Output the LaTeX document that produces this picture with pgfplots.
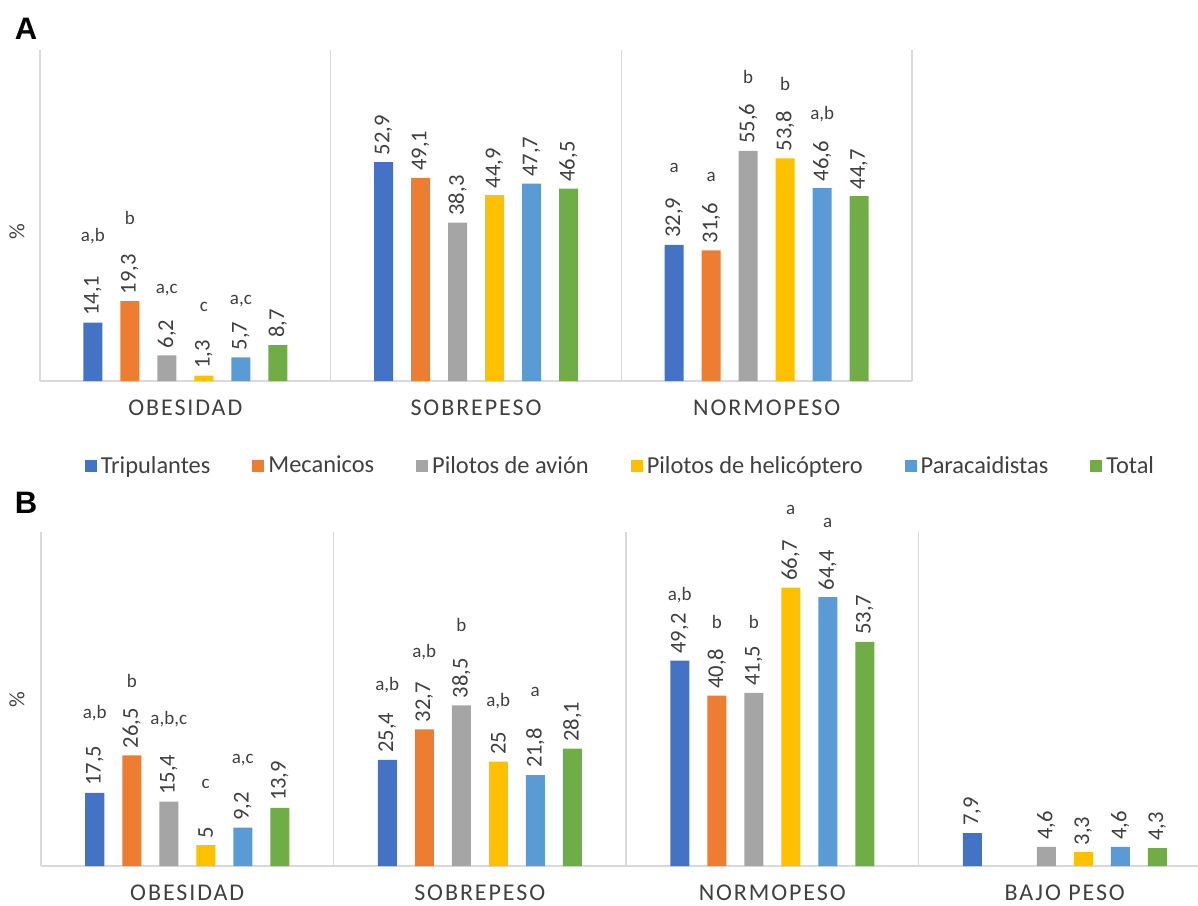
\documentclass[border=0pt]{standalone}
\usepackage{fontspec}
\setmainfont{Carlito}
\newfontfamily\spaced[LetterSpace=8]{Carlito}
\newfontfamily\titlefont{Liberation Sans}
\usepackage{pgfplots}
\pgfplotsset{compat=1.18}
\definecolor{cTrip}{HTML}{4472C4}
\definecolor{cMec}{HTML}{ED7D31}
\definecolor{cAvi}{HTML}{A5A5A5}
\definecolor{cHel}{HTML}{FFC000}
\definecolor{cPar}{HTML}{5B9BD5}
\definecolor{cTot}{HTML}{70AD47}
\definecolor{txt}{HTML}{404040}
\tikzset{sig/.style={font=\fontsize{9.5}{10}\selectfont, text=txt, inner sep=0pt}}
\pgfplotsset{
 panel/.style={
  scale only axis, ybar, bar width=9.5pt, ymin=0, ymax=80, clip=false,
  enlarge x limits=false, enlarge y limits=false,
  axis y line=none, axis x line=bottom,
  x axis line style={-, draw=gray!30, line width=1pt},
  major tick length=0pt,
  xticklabel style={font=\spaced\fontsize{12}{14}\selectfont, text=black!75, yshift=-6pt},
  extra x ticks={-0.5,0.5,1.5,2.5}, extra x tick labels={},
  extra x tick style={grid=major, major grid style={draw=gray!30, line width=0.8pt}},
  /pgf/number format/use comma, /pgf/number format/assume math mode=true,
  nodes near coords,
  every node near coord/.append style={rotate=90, anchor=west, font=\fontsize{11.3}{13}\selectfont, text=txt},
 },
}
\begin{document}
\begin{tikzpicture}
\path[use as bounding box] (0,0) rectangle (599pt,-452.5pt);
% Panel A
\begin{axis}[panel, at={(20pt,-190.5pt)}, anchor=south west, width=436pt, height=165.5pt,
  xmin=-0.5, xmax=2.5, xtick={0,1,2}, xticklabels={OBESIDAD,SOBREPESO,NORMOPESO}]
\addplot[fill=cTrip, draw=none, bar shift=-46.25pt] coordinates {(0,14.1) (1,52.9) (2,32.9)};
\addplot[fill=cMec,  draw=none, bar shift=-27.75pt] coordinates {(0,19.3) (1,49.1) (2,31.6)};
\addplot[fill=cAvi,  draw=none, bar shift=-9.25pt]  coordinates {(0,6.2) (1,38.3) (2,55.6)};
\addplot[fill=cHel,  draw=none, bar shift=9.25pt]   coordinates {(0,1.3) (1,44.9) (2,53.8)};
\addplot[fill=cPar,  draw=none, bar shift=27.75pt]  coordinates {(0,5.7) (1,47.7) (2,46.6)};
\addplot[fill=cTot,  draw=none, bar shift=46.25pt]  coordinates {(0,8.7) (1,46.5) (2,44.7)};
\node[sig] at ([xshift=-46.25pt]axis cs:0,35.1) {a,b};
\node[sig] at ([xshift=-27.75pt]axis cs:0,39.3) {b};
\node[sig] at ([xshift=-9.25pt]axis cs:0,22.0) {a,c};
\node[sig] at ([xshift=9.25pt]axis cs:0,17.9) {c};
\node[sig] at ([xshift=27.75pt]axis cs:0,19.3) {a,c};
\node[sig] at ([xshift=-46.25pt]axis cs:2,51.4) {a};
\node[sig] at ([xshift=-27.75pt]axis cs:2,49.3) {a};
\node[sig] at ([xshift=-9.25pt]axis cs:2,73.4) {b};
\node[sig] at ([xshift=9.25pt]axis cs:2,71.7) {b};
\node[sig] at ([xshift=27.75pt]axis cs:2,64.4) {a,b};
\end{axis}
% Panel B
\begin{axis}[panel, at={(20.5pt,-433pt)}, anchor=south west, width=578.5pt, height=167pt,
  xmin=-0.5, xmax=3.4556, xtick={0,1,2,3}, xticklabels={OBESIDAD,SOBREPESO,NORMOPESO,BAJO PESO},
  legend columns=6,
  legend style={at={(0.5017,1.1976)}, anchor=center, draw=none, fill=none,
    font=\fontsize{12.2}{14}\selectfont, text=txt,
    /tikz/every even column/.append style={column sep=19pt}},
  legend image code/.code={\fill[#1,draw=none] (0pt,-3pt) rectangle (6pt,3pt);}]
\addplot[fill=cTrip, draw=none, bar shift=-46.25pt] coordinates {(0,17.5) (1,25.4) (2,49.2) (3,7.9)};
\addplot[fill=cMec,  draw=none, bar shift=-27.75pt] coordinates {(0,26.5) (1,32.7) (2,40.8)};
\addplot[fill=cAvi,  draw=none, bar shift=-9.25pt]  coordinates {(0,15.4) (1,38.5) (2,41.5) (3,4.6)};
\addplot[fill=cHel,  draw=none, bar shift=9.25pt]   coordinates {(0,5) (1,25) (2,66.7) (3,3.3)};
\addplot[fill=cPar,  draw=none, bar shift=27.75pt]  coordinates {(0,9.2) (1,21.8) (2,64.4) (3,4.6)};
\addplot[fill=cTot,  draw=none, bar shift=46.25pt]  coordinates {(0,13.9) (1,28.1) (2,53.7) (3,4.3)};
\legend{Tripulantes, Mecanicos, Pilotos de avión, Pilotos de helicóptero, Paracaidistas, Total}
\node[sig] at ([xshift=-46.25pt]axis cs:0,36.6) {a,b};
\node[sig] at ([xshift=-27.75pt]axis cs:0,44.4) {b};
\node[sig] at ([xshift=-9.25pt]axis cs:0,35.1) {a,b,c};
\node[sig] at ([xshift=9.25pt]axis cs:0,19.6) {c};
\node[sig] at ([xshift=27.75pt]axis cs:0,25.4) {a,c};
\node[sig] at ([xshift=-46.25pt]axis cs:1,43.4) {a,b};
\node[sig] at ([xshift=-27.75pt]axis cs:1,51.3) {a,b};
\node[sig] at ([xshift=-9.25pt]axis cs:1,57.7) {b};
\node[sig] at ([xshift=9.25pt]axis cs:1,39.6) {a,b};
\node[sig] at ([xshift=27.75pt]axis cs:1,41.7) {a};
\node[sig] at ([xshift=-46.25pt]axis cs:2,64.9) {a,b};
\node[sig] at ([xshift=-27.75pt]axis cs:2,58.5) {b};
\node[sig] at ([xshift=-9.25pt]axis cs:2,58.5) {b};
\node[sig] at ([xshift=9.25pt]axis cs:2,85.3) {a};
\node[sig] at ([xshift=27.75pt]axis cs:2,82.2) {a};
\end{axis}
\node[rotate=90, font=\fontsize{11}{13}\selectfont, text=txt] at (8.5pt,-116pt) {\%};
\node[rotate=90, font=\fontsize{11}{13}\selectfont, text=txt] at (8.5pt,-350pt) {\%};
\node[font=\titlefont\fontsize{15.5}{18}\selectfont\bfseries] at (13pt,-14.5pt) {A};
\node[font=\titlefont\fontsize{15.5}{18}\selectfont\bfseries] at (13pt,-251.5pt) {B};
\end{tikzpicture}
\end{document}
